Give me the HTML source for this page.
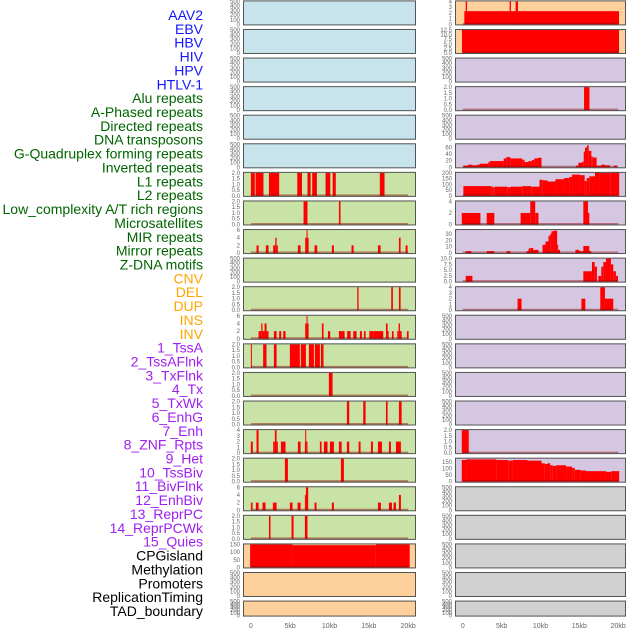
<!DOCTYPE html>
<html><head><meta charset="utf-8"><style>
html,body{margin:0;padding:0;background:#fff;}
svg{display:block;font-family:"Liberation Sans",sans-serif;}
</style></head><body>
<svg id="chart" width="630" height="630" viewBox="0 0 630 630"></svg>
<script>
// ---- categories ----
const trackNames = ["AAV2","EBV","HBV","HIV","HPV","HTLV-1","Alu repeats","A-Phased repeats","Directed repeats","DNA transposons","G-Quadruplex forming repeats","Inverted repeats","L1 repeats","L2 repeats","Low_complexity A/T rich regions","Microsatellites","MIR repeats","Mirror repeats","Z-DNA motifs","CNV","DEL","DUP","INS","INV","1_TssA","2_TssAFlnk","3_TxFlnk","4_Tx","5_TxWk","6_EnhG","7_Enh","8_ZNF_Rpts","9_Het","10_TssBiv","11_BivFlnk","12_EnhBiv","13_ReprPC","14_ReprPCWk","15_Quies","CPGisland","Methylation","Promoters","ReplicationTiming","TAD_boundary"];
const trackGroup = [0,0,0,0,0,0,1,1,1,1,1,1,1,1,1,1,1,1,1,2,2,2,2,2,3,3,3,3,3,3,3,3,3,3,3,3,3,3,3,4,4,4,4,4];
const groupText = ["#1515ff","#006400","#ffa500","#a020f0","#000000"];
const groupFill = ["#c7e4ec","#c9e2a5","#fdd09c","#d5c7e2","#d0d0d0"];
// y-axis maxima per track (empty tracks use 500)
const trackMax = [500,500,500,500,500,500,2,2,6,500,2,6,2,2,2,4,2,6,2,150,500,500,4,12.5,500,2,500,70,200,4,36,10,4,500,500,500,500,2,175,500,500,500,500,500];
const trackStep = [100,100,100,100,100,100,0.5,0.5,2,100,0.5,2,0.5,0.5,0.5,1,0.5,2,0.5,50,100,100,1,2.5,100,0.5,100,20,50,2,10,2.5,1,100,100,100,100,0.5,50,100,100,100,100,100];
const xTicks = [0,5,10,15,20];
const xTickLabels = ["0","5kb","10kb","15kb","20kb"];
// ---- series: [startKb, endKb, value] ----
const sAlu = [[0,0.5,2],[0.6,1.6,2],[2.3,3.6,2],[5.9,6.5,2],[7.2,7.6,2],[7.8,8.4,2],[9.5,10.1,2],[10.4,10.8,2],[16.4,17.0,2]];
const sAPhased = [[6.7,7.2,2],[11.2,11.4,2]];
const sDirected = [[0.72,0.98,2],[1.91,2.25,2],[2.84,3.1,2],[3.1,3.27,4],[3.27,3.43,2],[5.98,6.32,2],[6.91,7.08,4],[7.08,7.2,6],[7.2,7.34,4],[8.1,8.44,2],[10.3,10.56,2],[12.8,13.07,2],[16.16,16.5,2],[18.83,19.04,4],[19.68,19.93,2]];
const sGQuad = [[13.53,13.7,2],[17.85,18.06,2],[18.83,19.04,2]];
const sInverted = [[0.98,1.32,2],[1.32,1.48,4],[1.48,1.74,2],[1.74,1.99,4],[1.99,2.25,2],[2.93,3.27,2],[3.6,3.86,2],[4.11,4.41,2],[6.91,7.08,4],[7.08,7.2,6],[7.2,7.34,4],[9.03,9.24,4],[9.8,10.09,2],[11.2,11.92,2],[12.25,12.68,2],[13.02,13.44,2],[13.87,14.12,2],[14.38,14.59,2],[15.06,15.56,2],[15.56,16.84,2],[17.18,17.39,4],[17.39,17.52,2],[17.94,18.15,2],[18.62,18.79,2],[18.79,18.96,4],[18.96,19.17,2],[19.85,20.06,2]];
const sL1 = [[0,0.13,2],[1.56,1.99,2],[2.93,3.27,2],[4.96,6.23,2],[6.36,7.0,2],[7.38,8.02,2],[8.14,8.78,2],[8.91,9.24,2]];
const sL2 = [[9.92,10.39,2]];
const sLowComp = [[12.21,12.51,2],[14.29,14.59,2],[17.18,17.39,2],[18.83,19.17,2]];
const sMicrosat = [[0,0.25,2],[0.72,0.98,4],[2.84,3.05,2],[3.05,3.27,4],[3.27,3.43,2],[3.82,4.41,2],[5.98,6.32,2],[6.87,6.91,2],[6.91,7.04,4],[7.04,7.2,2],[8.78,8.99,2],[9.29,9.75,2],[10.05,10.56,2],[11.2,11.54,2],[12.21,12.51,2],[13.7,13.95,2],[15.27,15.52,2],[16.16,16.67,2],[17.56,17.81,2],[18.45,19.08,2]];
const sMIR = [[4.33,4.71,2],[11.45,11.83,2]];
const sMirror = [[0,0.21,2],[0.64,0.98,2],[1.48,1.87,2],[2.8,3.27,2],[4.96,5.3,2],[5.94,6.32,2],[6.87,7.0,4],[7.0,7.29,6],[8.1,8.35,2],[10.3,10.56,2],[16.16,16.54,2],[17.56,17.94,2],[18.15,18.45,2],[18.83,19.08,4]];
const sZDNA = [[2.3,2.5,2],[5.17,5.43,2],[6.87,7.2,2]];
const sCNV = [[-0.1,5.3,150],[5.3,15.9,145],[15.9,20.2,150]];
const sINS = [[0.2,20.1,2.3],[0.38,0.55,4],[6.03,6.2,4],[6.8,7.1,4]];
const sINV = [[-0.1,20.1,12.5]];
const sTssAFlnk = [[15.6,16.3,2]];
const sTx = [[0.08,0.69,5],[0.69,1.24,8],[1.24,1.84,6],[1.84,2.18,8],[2.18,3.25,11],[3.25,3.46,15],[3.46,5.26,19],[5.26,5.6,27],[5.6,6.11,31],[6.11,7.65,27],[7.65,7.95,23],[7.95,8.46,16],[8.46,8.89,19],[8.89,9.19,22],[9.19,9.62,27],[9.62,10.13,29],[14.57,14.87,5],[14.87,15.34,14],[15.34,15.56,17],[15.56,15.73,48],[15.73,15.98,60],[15.98,16.2,67],[16.2,16.54,50],[16.54,16.71,33],[16.71,17.22,30],[17.22,17.82,5],[17.82,18.33,8],[18.33,18.93,6],[19.44,19.83,5]];
const sTxWk = [[0.08,3.67,85],[3.67,3.93,80],[3.93,4.1,75],[4.1,5.73,80],[5.73,6.15,75],[6.15,7.65,80],[7.65,8.8,85],[8.8,9.87,80],[9.87,10.3,140],[10.3,10.9,135],[10.9,11.92,125],[11.92,13.03,145],[13.03,13.72,155],[13.72,14.06,165],[14.06,15.09,185],[15.09,15.68,180],[15.68,15.94,130],[15.94,16.28,155],[16.28,17.01,170],[17.01,17.65,205],[17.65,18.97,200],[18.97,20.13,205]];
const sEnhG = [[-0.13,2.27,2],[3.08,4.06,2],[7.44,8.68,2],[8.68,9.32,4],[9.32,9.74,2],[15.51,16.11,4],[16.11,16.28,2]];
const sEnh = [[0.38,1.11,3],[3.08,4.06,3],[5.64,6.11,3],[8.21,8.46,3],[8.46,8.68,7],[8.68,9.06,8],[9.06,9.74,5],[10.26,10.64,13],[10.64,11.03,18],[11.03,11.24,27],[11.24,11.41,30],[11.41,11.62,34],[11.62,12.14,35],[12.14,12.26,13],[12.26,12.52,5],[14.49,15.0,5],[15.0,15.21,3],[15.26,15.51,3],[15.51,16.28,11],[16.28,16.54,3]];
const sZNF = [[0.38,1.24,2.5],[15.51,16.62,4.5],[16.62,16.97,8.5],[16.97,17.26,6.5],[17.44,17.82,2.5],[17.82,18.08,6.5],[18.08,18.42,8.5],[18.42,19.06,10],[19.06,19.36,7.5],[19.36,19.7,4.5],[19.7,19.96,2.5]];
const sHet = [[7.05,7.56,2],[15.26,15.77,2],[17.69,18.29,4],[18.29,19.36,2]];
const sReprPCWk = [[-0.13,0.77,2]];
const sQuies = [[-0.13,0.47,165],[0.47,4.32,170],[4.32,5.85,165],[5.85,6.45,160],[6.45,8.33,165],[8.33,10.13,160],[10.13,10.56,140],[10.56,10.9,135],[10.9,11.24,140],[11.24,11.58,125],[11.58,12.01,120],[12.01,13.29,125],[13.29,14.06,115],[14.06,14.4,105],[14.4,15.17,90],[15.17,15.85,85],[15.85,18.42,80],[18.42,19.1,75],[19.1,20.13,80]];
const trackSeries = [null,null,null,null,null,null,sAlu,sAPhased,sDirected,null,sGQuad,sInverted,sL1,sL2,sLowComp,sMicrosat,sMIR,sMirror,sZDNA,sCNV,null,null,sINS,sINV,null,sTssAFlnk,null,sTx,sTxWk,sEnhG,sEnh,sZNF,sHet,null,null,null,null,sReprPCWk,sQuies,null,null,null,null,null];

const NS = "http://www.w3.org/2000/svg";
const svg = document.getElementById("chart");
function mk(tag, attrs, parent){ const e=document.createElementNS(NS,tag); for(const k in attrs) e.setAttribute(k,attrs[k]); (parent||svg).appendChild(e); return e; }

// label column
trackNames.forEach((n,i)=>{
  const t = mk("text",{x:203,y:20+i*13.86,"text-anchor":"end","font-size":"14",fill:groupText[trackGroup[i]]});
  t.textContent = n;
  
  
});

// panels
const cols = [{x0:243,x1:416},{x0:455,x1:626}];
function xScale(c,kb){ const w=cols[c].x1-cols[c].x0; return cols[c].x0 + (kb+1)/22*w; }
function fmt(v,step){ return (step%1!==0 || String(step).includes('.')) ? v.toFixed(1) : String(v); }
for(let i=0;i<trackNames.length;i++){
  const c = i<22?0:1, r = i%22;
  const top = 0.4 + r*28.58, h = r===21?16:25, bot = top+h;
  const x0=cols[c].x0, x1=cols[c].x1;
  const g = mk("g",{});
  
  
  const bg = mk("rect",{x:x0,y:top,width:x1-x0,height:h,fill:groupFill[trackGroup[i]]},g);
  
  
  const ymax = trackMax[i], step = trackStep[i];
  const yS = v => (bot-1) - v/ymax*(h-2);
  const ser = trackSeries[i];
  if(ser){
    ser.forEach(s=>{
      const xa=xScale(c,s[0]), xb=xScale(c,s[1]);
      const b = mk("rect",{x:xa,y:yS(s[2]),width:Math.max(1,xb-xa),height:(bot-1)-yS(s[2]),fill:"#ff0000"},g);
      
      
    });
    const bl = mk("line",{x1:xScale(c,0),x2:xScale(c,20),y1:bot-1.5,y2:bot-1.5,stroke:"rgba(139,0,0,0.45)","stroke-width":2},g);
    
    
  }
  const fr = mk("rect",{x:x0+0.5,y:top+0.5,width:x1-x0-1,height:h-1,fill:"none",stroke:"#555","stroke-width":1},g);
  
  
  for(let v=0; v<=ymax+1e-9; v+=step){
    const t = mk("text",{x:x0-3,y:yS(v)+2,"text-anchor":"end","font-size":"6",fill:"#666"},g);
    t.textContent = fmt(Math.round(v*10)/10,step);
    
    
  }
}
// x axes
for(let c=0;c<2;c++){
  xTicks.forEach((v,k)=>{
    const t = mk("text",{x:xScale(c,v),y:628,"text-anchor":"middle","font-size":"7",fill:"#666"});
    t.textContent = xTickLabels[k];
    
    
  });
}
</script>
</body></html>
